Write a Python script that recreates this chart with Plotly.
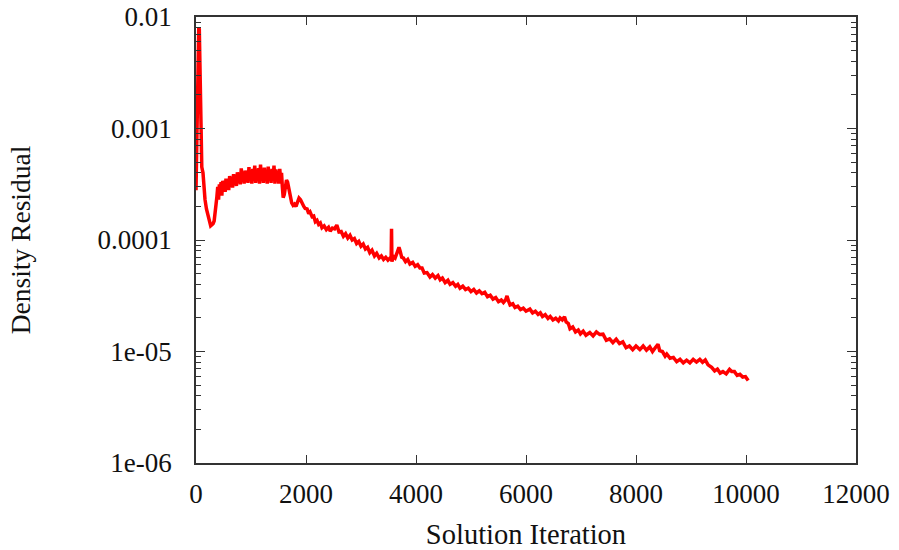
import plotly.graph_objects as go

# --- data (iteration, density residual) ---
iterations = [
    0, 15, 30, 50, 60, 75, 90, 105, 127, 145, 164, 190, 218, 245, 267, 290, 310, 330, 350, 365, 380,
    395, 410, 425, 440, 455, 470, 485, 500, 515, 530, 545, 560, 578, 595, 612, 630, 648, 665, 683, 700,
    718, 735, 752, 770, 788, 805, 823, 840, 858, 875, 893, 910, 928, 945, 963, 980, 998, 1015, 1033,
    1050, 1068, 1085, 1103, 1120, 1138, 1155, 1173, 1190, 1208, 1225, 1243, 1260, 1278, 1295, 1313,
    1330, 1348, 1365, 1383, 1400, 1418, 1435, 1453, 1470, 1488, 1505, 1523, 1540, 1555,
    1570, 1585, 1605, 1625, 1645, 1665, 1690, 1710, 1740, 1765, 1790, 1818, 1845, 1873, 1900, 1930,
    1960, 1985, 2020, 2050, 2075, 2110, 2140, 2170, 2200, 2230, 2260, 2290, 2330, 2370, 2410, 2440,
    2480, 2520, 2560, 2600, 2640, 2680, 2720, 2760, 2800, 2840, 2880, 2920, 2960, 3000, 3040, 3080,
    3120, 3160, 3200, 3245, 3285, 3330, 3370, 3410, 3450, 3490, 3530, 3548, 3555, 3562, 3590, 3620,
    3660, 3690, 3710, 3740, 3770, 3810, 3850, 3890, 3940, 3985, 4030, 4072, 4110, 4150, 4200, 4254,
    4300, 4350, 4400, 4440, 4480, 4530, 4580, 4620, 4670, 4720, 4760, 4800, 4850, 4900, 4950, 5000,
    5050, 5100, 5150, 5200, 5250, 5300, 5350, 5400, 5450, 5500, 5550, 5590, 5630, 5655, 5680, 5710,
    5760, 5800, 5850, 5900, 5950, 6000, 6070, 6120, 6170, 6220, 6260, 6300, 6350, 6400, 6440, 6490,
    6540, 6590, 6620, 6660, 6700, 6730, 6770, 6800, 6850, 6900, 6950, 6990, 7040, 7090, 7160, 7220,
    7280, 7340, 7400, 7460, 7520, 7580, 7640, 7700, 7760, 7820, 7880, 7940, 8000, 8070, 8130, 8190,
    8250, 8300, 8350, 8400, 8430, 8480, 8530, 8560, 8620, 8680, 8740, 8800, 8860, 8920, 8980, 9040,
    9100, 9160, 9210, 9260, 9310, 9375, 9430, 9480, 9530, 9580, 9640, 9700, 9740, 9790, 9840, 9890,
    9940, 9990, 10040,
]

residuals = [
    2.8e-4, 1.0e-3, 3.5e-3, 8.0e-3, 7.8e-3, 3.5e-3, 1.2e-3, 4.5e-4, 4.0e-4, 3.0e-4, 2.3e-4, 1.9e-4,
    1.65e-4, 1.42e-4, 1.34e-4, 1.37e-4, 1.40e-4, 1.48e-4, 1.7e-4, 2.1e-4, 2.45e-4,
    3.0e-4, 2.3e-4, 3.15e-4, 2.55e-4, 3.3e-4, 2.5e-4, 3.4e-4, 2.75e-4, 3.4e-4, 2.7e-4, 3.55e-4,
    2.95e-4, 3.55e-4, 2.8e-4, 3.75e-4, 3.05e-4, 3.65e-4, 2.95e-4, 3.9e-4, 3.2e-4, 3.8e-4, 3.05e-4,
    4.05e-4, 3.3e-4, 3.95e-4, 3.15e-4, 4.4e-4, 3.4e-4, 4.0e-4, 3.2e-4, 4.2e-4, 3.45e-4, 4.1e-4,
    3.25e-4, 4.5e-4, 3.4e-4, 4.1e-4, 3.2e-4, 4.35e-4, 3.45e-4, 4.65e-4, 3.25e-4, 4.15e-4, 3.4e-4,
    4.4e-4, 3.2e-4, 4.75e-4, 3.45e-4, 4.2e-4, 3.25e-4, 4.45e-4, 3.4e-4, 4.2e-4, 3.2e-4, 4.55e-4,
    3.4e-4, 4.15e-4, 3.25e-4, 4.35e-4, 3.4e-4, 4.65e-4, 3.2e-4, 4.3e-4, 3.45e-4, 4.1e-4, 3.2e-4,
    4.35e-4, 3.4e-4, 4.0e-4,
    3.0e-4, 2.4e-4, 2.55e-4, 3.2e-4, 3.45e-4, 3.3e-4, 2.8e-4, 2.5e-4, 2.15e-4, 2.05e-4, 2.1e-4,
    2.0e-4, 2.2e-4, 2.38e-4, 2.3e-4, 2.1e-4, 2.0e-4, 1.92e-4, 1.9e-4, 1.72e-4, 1.78e-4, 1.62e-4,
    1.64e-4, 1.46e-4, 1.5e-4, 1.38e-4, 1.42e-4, 1.29e-4, 1.34e-4, 1.24e-4, 1.3e-4, 1.2e-4, 1.28e-4,
    1.26e-4, 1.36e-4, 1.18e-4, 1.19e-4, 1.08e-4, 1.14e-4, 1.04e-4, 1.1e-4, 1.0e-4, 1.03e-4, 9.3e-5,
    9.7e-5, 8.8e-5, 9.2e-5, 8.3e-5, 8.6e-5, 7.7e-5, 8.1e-5, 7.2e-5, 7.6e-5, 6.9e-5, 7.2e-5, 6.7e-5,
    7.0e-5, 6.6e-5, 6.9e-5, 6.6e-5, 1.26e-4, 6.4e-5, 7.1e-5, 6.9e-5, 7.8e-5, 8.6e-5, 8.0e-5, 7.0e-5,
    6.9e-5, 6.4e-5, 6.7e-5, 6.1e-5, 6.3e-5, 5.8e-5, 6.0e-5, 5.6e-5, 5.6e-5, 5.05e-5, 5.1e-5, 4.65e-5,
    4.9e-5, 4.55e-5, 4.8e-5, 4.4e-5, 4.55e-5, 4.15e-5, 4.35e-5, 4.0e-5, 4.15e-5, 3.85e-5, 4.0e-5,
    3.7e-5, 3.85e-5, 3.6e-5, 3.7e-5, 3.45e-5, 3.6e-5, 3.35e-5, 3.5e-5, 3.3e-5, 3.4e-5, 3.1e-5,
    3.2e-5, 2.95e-5, 3.05e-5, 2.8e-5, 2.9e-5, 2.75e-5, 2.9e-5, 3.15e-5, 2.85e-5, 2.62e-5, 2.68e-5,
    2.48e-5, 2.55e-5, 2.38e-5, 2.45e-5, 2.3e-5, 2.4e-5, 2.22e-5, 2.3e-5, 2.15e-5, 2.22e-5, 2.06e-5,
    2.14e-5, 1.98e-5, 2.06e-5, 1.92e-5, 1.99e-5, 1.88e-5, 2.0e-5, 1.92e-5, 2.05e-5, 1.84e-5, 1.78e-5,
    1.6e-5, 1.66e-5, 1.5e-5, 1.56e-5, 1.44e-5, 1.52e-5, 1.4e-5, 1.48e-5, 1.38e-5, 1.5e-5, 1.42e-5,
    1.43e-5, 1.26e-5, 1.3e-5, 1.2e-5, 1.29e-5, 1.18e-5, 1.22e-5, 1.08e-5, 1.12e-5, 1.04e-5, 1.12e-5,
    1.04e-5, 1.12e-5, 1.03e-5, 1.1e-5, 1.0e-5, 1.08e-5, 1.16e-5, 1.02e-5, 1.0e-5, 9.1e-6, 9.5e-6,
    8.7e-6, 8.85e-6, 8.1e-6, 8.5e-6, 7.9e-6, 8.35e-6, 7.9e-6, 8.5e-6, 8.05e-6, 8.5e-6, 8.0e-6,
    8.4e-6, 7.6e-6, 7.2e-6, 6.7e-6, 6.95e-6, 6.4e-6, 6.6e-6, 6.3e-6, 6.9e-6, 6.6e-6, 6.6e-6, 6.1e-6,
    6.25e-6, 5.9e-6, 5.95e-6, 5.5e-6,
]

x_ticks = [0, 2000, 4000, 6000, 8000, 10000, 12000]
y_tickvals = [1e-6, 1e-5, 1e-4, 1e-3, 1e-2]
y_ticktext = ["1e-06", "1e-05", "0.0001", "0.001", "0.01"]

font_family = "Liberation Serif, Times New Roman, serif"
axis_color = "#333333"

fig = go.Figure()
fig.add_trace(go.Scatter(
    x=iterations, y=residuals, mode="lines",
    line=dict(color="#ff0000", width=3.5),
    showlegend=False,
))

fig.update_layout(
    width=899, height=550,
    margin=dict(l=196, r=43, t=17, b=87, autoexpand=False),
    paper_bgcolor="white", plot_bgcolor="white",
    font=dict(family=font_family, size=27, color="#111111"),
)

fig.update_xaxes(
    range=[0, 12000], tickvals=x_ticks, ticktext=[str(v) for v in x_ticks],
    showgrid=False, zeroline=False, automargin=False,
    showline=True, linecolor=axis_color, linewidth=1.5, mirror="ticks",
    ticks="inside", ticklen=8, tickwidth=1.2, tickcolor=axis_color,
    ticklabelstandoff=6,
    title=dict(text="Solution Iteration", standoff=22, font=dict(size=28.5)),
)

fig.update_yaxes(
    type="log", range=[-6, -2], tickvals=y_tickvals, ticktext=y_ticktext,
    showgrid=False, zeroline=False, automargin=False,
    showline=True, linecolor=axis_color, linewidth=1.5, mirror="ticks",
    ticks="inside", ticklen=9, tickwidth=1.2, tickcolor=axis_color,
    minor=dict(ticks="inside", ticklen=5, tickwidth=1, tickcolor=axis_color, dtick="D1", showgrid=False),
    ticklabelstandoff=17,
    title=dict(text="Density Residual", standoff=59, font=dict(size=27.5)),
)

fig.write_html("out.html")
